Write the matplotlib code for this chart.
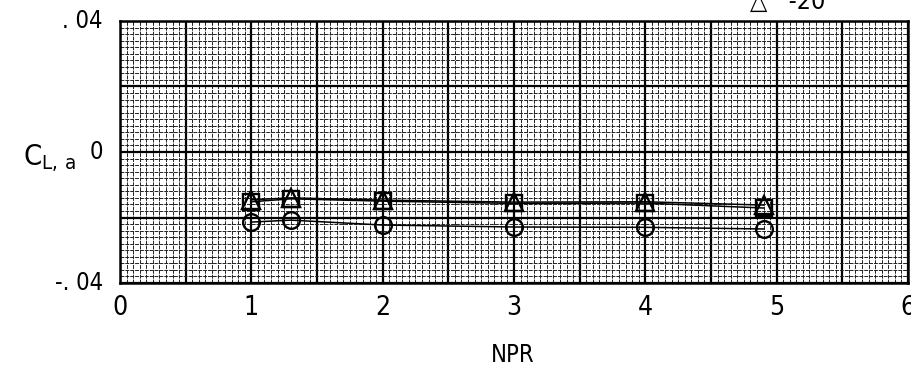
import matplotlib
matplotlib.use('Agg')
import matplotlib.pyplot as plt
from matplotlib.ticker import MultipleLocator

# lift coefficient vs nozzle pressure ratio
npr = [1.0, 1.3, 2.0, 3.0, 4.0, 4.9]
cl_circ = [-0.0214, -0.0208, -0.0223, -0.0229, -0.0230, -0.0235]
cl_sq = [-0.0152, -0.0143, -0.0150, -0.0157, -0.0156, -0.0171]
cl_tri = [-0.0146, -0.0140, -0.0147, -0.0153, -0.0152, -0.0162]

xticks = [0, 1, 2, 3, 4, 5, 6]
yticks = [-0.04, 0, 0.04]
yticklabels = ['-. 04', '0', '. 04']

plt.rcParams['font.family'] = ['DejaVu Sans']
plt.rcParams['font.stretch'] = 'condensed'
plt.rcParams['mathtext.fontset'] = 'custom'
plt.rcParams['mathtext.rm'] = 'DejaVu Sans:stretch=condensed'

fig = plt.figure(figsize=(9.11, 3.81), dpi=100)
ax = fig.add_axes([0.1317, 0.2572, 0.8650, 0.6877])

ax.set_xlim(0, 6)
ax.set_ylim(-0.04, 0.04)

# graph paper
ax.xaxis.set_major_locator(MultipleLocator(0.5))
ax.xaxis.set_minor_locator(MultipleLocator(0.05))
ax.yaxis.set_major_locator(MultipleLocator(0.02))
ax.yaxis.set_minor_locator(MultipleLocator(0.002))
ax.grid(which='minor', color='#222222', lw=0.7, ls=(0, (4, 1)))
ax.grid(which='major', color='black', lw=1.6)
ax.set_axisbelow(True)
ax.tick_params(which='both', length=0, labelbottom=False, labelleft=False)
for s in ax.spines.values():
    s.set_linewidth(1.8)
    s.set_color('black')

kw = dict(color='black', lw=1.1, mfc='none', mec='black', mew=1.7)
ax.plot(npr, cl_circ, marker='o', ms=12, **kw)
ax.plot(npr, cl_sq, marker='s', ms=11, **kw)
ax.plot(npr, cl_tri, marker='^', ms=13, **kw)

# tick labels written outside the grid
for xv in xticks:
    ax.text(xv, -0.0475, str(xv), ha='center', va='center', fontsize=19)
for yv, lab in zip(yticks, yticklabels):
    ax.text(-0.13, yv, lab, ha='right', va='center', fontsize=17)

fig.text(0.563, 0.068, 'NPR', ha='center', va='center', fontsize=17)
fig.text(0.025, 0.585, r'$\mathregular{C_{L,\,a}}$', ha='left', va='center',
         fontsize=21)

# bottom line of the key, cut by the top edge
fig.text(0.823, 0.995, '\u25b3   -20', ha='left', va='center', fontsize=18)

fig.savefig('out.png', dpi=100)
